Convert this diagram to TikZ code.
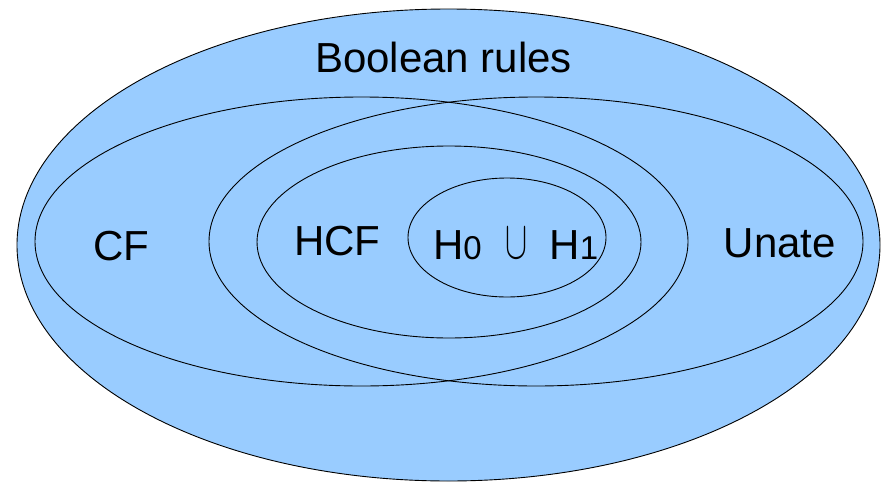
\documentclass[tikz,border=0pt]{standalone}
\usepackage{fontspec}
\usepackage{graphicx}
\setmainfont{Liberation Sans}
\definecolor{setblue}{HTML}{99CCFF}
\begin{document}
\begin{tikzpicture}[x=1pt,y=-1pt,
  setline/.style={draw=black,line width=0.9pt},
  lbl/.style={inner sep=0pt,anchor=base,font=\fontsize{42}{50}\selectfont}]
\useasboundingbox (0,0) rectangle (881,482);
\filldraw[setline,fill=setblue] (448.5,245) ellipse [x radius=431.5,y radius=236];
\draw[setline] (361.5,241.5) ellipse [x radius=326.5,y radius=144.5];
\draw[setline] (536,241.5) ellipse [x radius=327,y radius=144.5];
\draw[setline] (449,242) ellipse [x radius=192,y radius=96];
\draw[setline] (507,237.5) ellipse [x radius=99,y radius=59.5];
\node[lbl] (bool) at (443.5,72) {Boolean rules};
\node[lbl] (cf) at (121.5,260) {CF};
\node[lbl] (hcf) at (337.5,255) {HCF};
\node[lbl] (unate) at (780,257) {Unate};
\node[lbl] (h0) at (457.5,259) {H{\fontsize{33}{40}\selectfont 0}};
\node[lbl] (cup) at (516.5,258) {\resizebox{22pt}{30pt}{$\cup$}};
\node[lbl] (h1) at (574,259) {H{\fontsize{33}{40}\selectfont 1}};
\end{tikzpicture}
\end{document}
